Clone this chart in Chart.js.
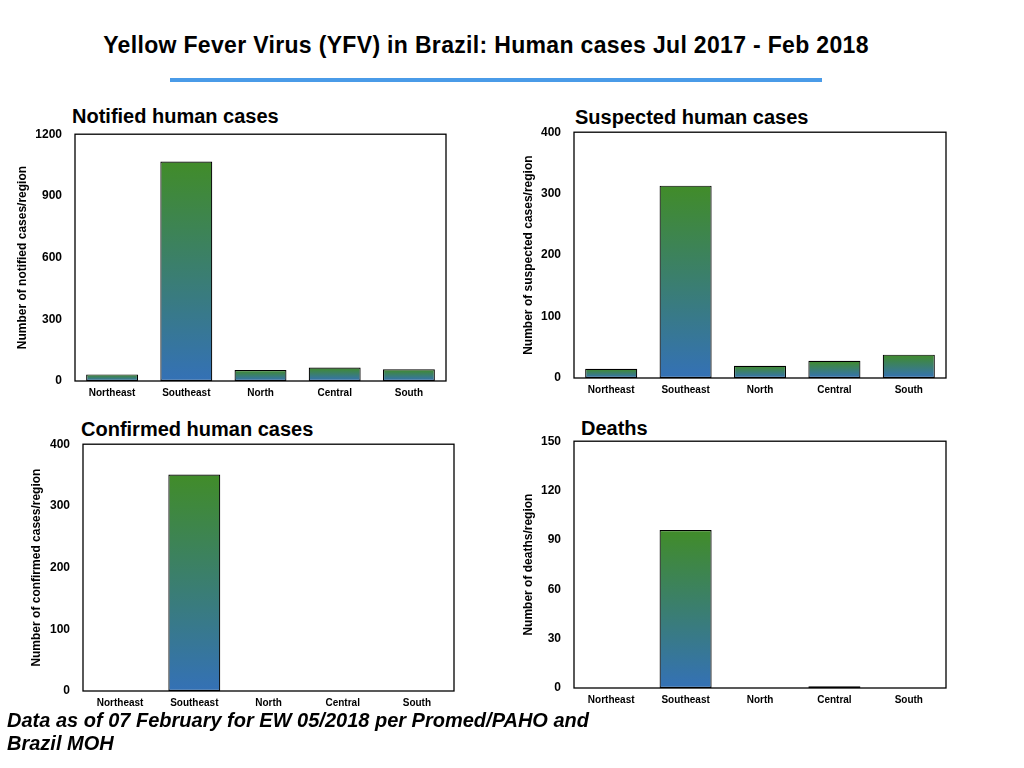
<!DOCTYPE html>
<html>
<head>
<meta charset="utf-8">
<script src="https://cdn.jsdelivr.net/npm/chart.js@4.4.0/dist/chart.umd.min.js"></script>
<style>
  body { margin: 0; background: #fff; font-family: "Liberation Sans", Arial, sans-serif; }
  #page { position: relative; width: 1024px; height: 768px; overflow: hidden; }
  .txt { position: absolute; font-weight: bold; color: #000; white-space: nowrap; }
  .box { position: absolute; }
</style>
</head>
<body>
<div id="page">
  <div class="txt" style="left:0; width:972px; text-align:center; top:33.5px; font-size:23px; line-height:23px; letter-spacing:0.33px;">Yellow Fever Virus (YFV) in Brazil: Human cases Jul 2017 - Feb 2018</div>
  <div style="position:absolute; left:170px; top:78px; width:652px; height:4px; background:#4a9be8;"></div>

  <div class="txt" style="left:72px; top:106px; font-size:20px; line-height:20px;">Notified human cases</div>
  <div class="txt" style="left:575px; top:106.5px; font-size:20px; line-height:20px;">Suspected human cases</div>
  <div class="txt" style="left:81px; top:418.5px; font-size:20px; line-height:20px;">Confirmed human cases</div>
  <div class="txt" style="left:581px; top:418px; font-size:20px; line-height:20px;">Deaths</div>

  <div class="box" style="left:0px; top:114px; width:460px; height:292px;"><canvas id="chartNotified"></canvas></div>
  <div class="box" style="left:500px; top:112px; width:460px; height:291px;"><canvas id="chartSuspected"></canvas></div>
  <div class="box" style="left:0px; top:424px; width:468px; height:292px;"><canvas id="chartConfirmed"></canvas></div>
  <div class="box" style="left:500px; top:421px; width:460px; height:292px;"><canvas id="chartDeaths"></canvas></div>

  <div class="txt" style="left:7px; top:708.7px; font-size:20px; line-height:23.4px; font-style:italic;">Data as of 07 February for EW 05/2018 per Promed/PAHO and<br>Brazil MOH</div>
</div>
<script>
// Data
const regions = ['Northeast', 'Southeast', 'North', 'Central', 'South'];
const notifiedCases = [32, 1067, 53, 66, 57];
const suspectedCases = [15, 313, 20, 28, 38];
const confirmedCases = [0, 351, 0, 0, 0];
const deaths = [0, 96, 0, 1, 0];

// Axis ranges [max, step]
const notifiedAxis = [1200, 300];
const suspectedAxis = [400, 100];
const confirmedAxis = [400, 100];
const deathsAxis = [150, 30];

const greenTop = '#418c29';
const blueBottom = '#3471b6';
const fontFamily = '"Liberation Sans", Arial, sans-serif';

// Draw the black box around the plot area
const frame = {
    id: 'frame',
    afterDraw(chart) {
        const a = chart.chartArea;
        const ctx = chart.ctx;
        ctx.save();
        ctx.strokeStyle = '#000';
        ctx.lineWidth = 1.3;
        ctx.strokeRect(a.left, a.top, a.right - a.left, a.bottom - a.top);
        ctx.restore();
    }
};

// Each bar gets its own green -> blue gradient
function barGradient(context) {
    const chart = context.chart;
    if (!chart.chartArea) return greenTop;
    const y = chart.scales.y;
    const top = y.getPixelForValue(context.raw);
    const bottom = y.getPixelForValue(0);
    if (bottom - top < 1) return '#000';
    const g = chart.ctx.createLinearGradient(0, top, 0, bottom);
    g.addColorStop(0, greenTop);
    g.addColorStop(1, blueBottom);
    return g;
}

function makeChart(id, values, axis, yTitle, yWidth, titlePad, padRight) {
    const config = {
        type: 'bar',
        data: {
            labels: regions,
            datasets: [{
                data: values,
                backgroundColor: barGradient,
                borderColor: '#000',
                borderWidth: 1.2,
                borderSkipped: false,
                categoryPercentage: 1,
                barPercentage: 0.7,
            }]
        },
        options: {
            responsive: true,
            maintainAspectRatio: false,
            animation: false,
            layout: { padding: { top: 8, right: padRight, left: 0, bottom: 0 } },
            plugins: {
                legend: { display: false },
                tooltip: { enabled: false },
            },
            scales: {
                x: {
                    grid: { display: false, drawTicks: false },
                    border: { display: false },
                    ticks: {
                        color: '#000',
                        padding: 6,
                        maxRotation: 0,
                        font: { family: fontFamily, size: 10, weight: 'bold' },
                    },
                    afterFit: (a) => { a.height = 25; }
                },
                y: {
                    min: 0,
                    max: axis[0],
                    grid: { display: false, drawTicks: false },
                    border: { display: false },
                    ticks: {
                        stepSize: axis[1],
                        color: '#000',
                        padding: 13,
                        font: { family: fontFamily, size: 12, weight: 'bold' },
                        callback: (value) => String(value),
                    },
                    title: {
                        display: true,
                        text: yTitle,
                        color: '#000',
                        padding: { top: titlePad, bottom: 0 },
                        font: { family: fontFamily, size: 12, weight: 'bold' },
                    },
                    afterFit: (a) => { a.width = yWidth; }
                }
            }
        },
        plugins: [frame]
    };
    return new Chart(document.getElementById(id), config);
}

makeChart('chartNotified', notifiedCases, notifiedAxis, 'Number of notified cases/region', 75, 15, 14);
makeChart('chartSuspected', suspectedCases, suspectedAxis, 'Number of suspected cases/region', 74, 21, 14);
makeChart('chartConfirmed', confirmedCases, confirmedAxis, 'Number of confirmed cases/region', 83, 29, 14);
makeChart('chartDeaths', deaths, deathsAxis, 'Number of deaths/region', 74, 21, 14);
</script>
</body>
</html>
